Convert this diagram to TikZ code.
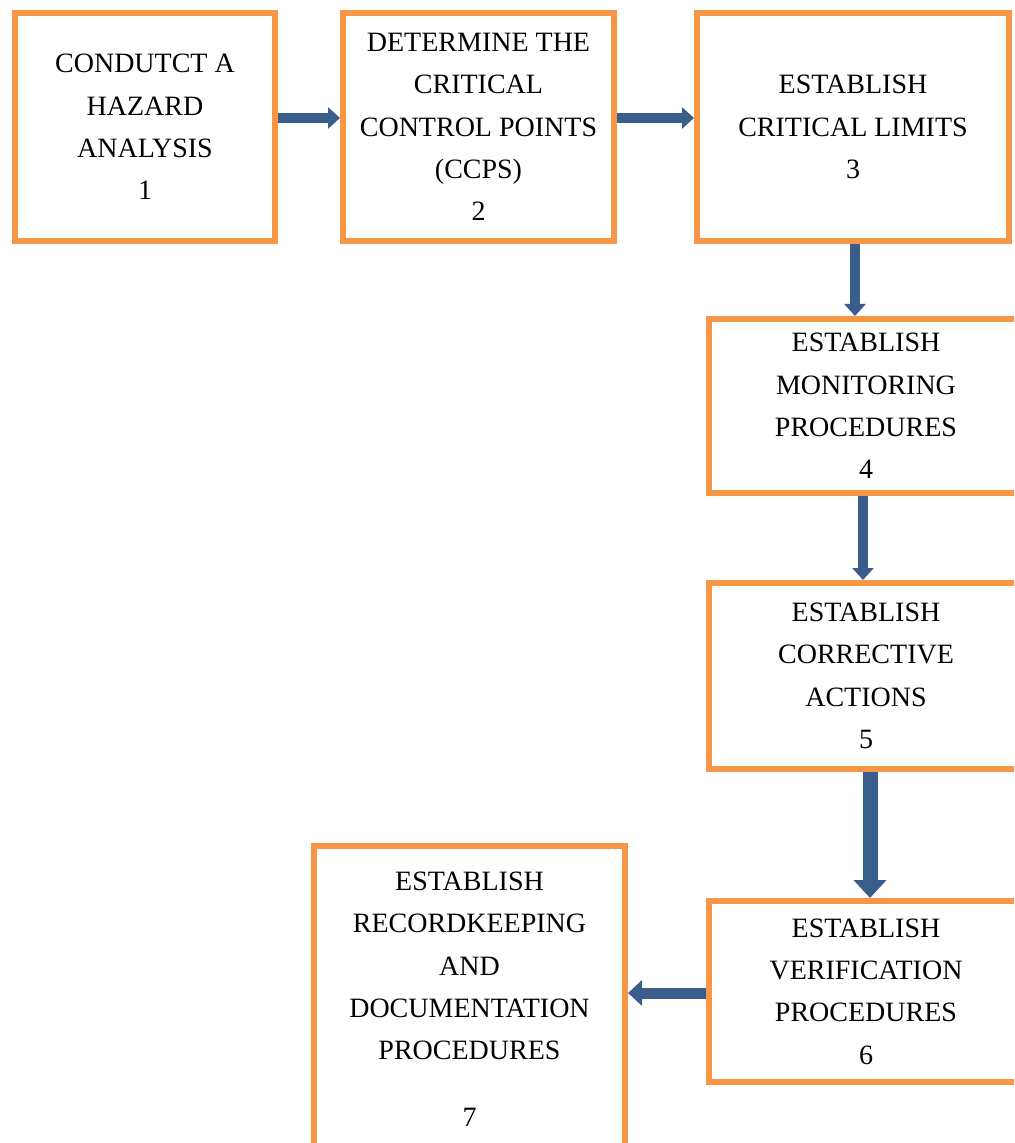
\documentclass[tikz,border=0pt]{standalone}
\usepackage{fontspec}
\setmainfont{Liberation Serif}
\usetikzlibrary{arrows.meta}
\definecolor{boxorange}{HTML}{F79646}
\definecolor{arrowblue}{HTML}{3A5E8C}
\begin{document}
\begin{tikzpicture}[x=0.5pt,y=-0.5pt,
  stepbox/.style={draw=boxorange, line width=3pt, fill=white, align=center,
    font=\fontsize{14}{21.2}\selectfont, inner sep=0pt},
  flow/.style={draw=arrowblue, line width=5pt,
    -{Triangle[width=10.5pt,length=6pt]}},
]
\useasboundingbox (0,0) rectangle (1014,1143);
\clip (0,0) rectangle (1014,1143);

% step boxes (the right-hand column and the last box run past the page edge)
\node[stepbox, minimum width=130pt, minimum height=114pt] (b1) at (145,127)
  {CONDUTCT A\\HAZARD\\ANALYSIS\\1};
\node[stepbox, minimum width=135.5pt, minimum height=114pt] (b2) at (478.5,127)
  {DETERMINE THE\\CRITICAL\\CONTROL POINTS\\(CCPS)\\2};
\node[stepbox, minimum width=156pt, minimum height=114pt] (b3) at (853,127)
  {ESTABLISH\\CRITICAL LIMITS\\3};
\node[stepbox, minimum width=157pt, minimum height=87pt] (b4) at (866,406)
  {ESTABLISH\\MONITORING\\PROCEDURES\\4};
\node[stepbox, minimum width=157pt, minimum height=93pt] (b5) at (866,676)
  {ESTABLISH\\CORRECTIVE\\ACTIONS\\5};
\node[stepbox, minimum width=157pt, minimum height=90.5pt] (b6) at (866,991.5)
  {ESTABLISH\\VERIFICATION\\PROCEDURES\\6};
\node[stepbox, minimum width=155.5pt, minimum height=153pt] (b7) at (469.5,999)
  {ESTABLISH\\RECORDKEEPING\\AND\\DOCUMENTATION\\PROCEDURES\\[12pt]7};

% connectors
\draw[flow] (b1.east |- 0,118) -- (b2.west |- 0,118);
\draw[flow] (b2.east |- 0,118) -- (b3.west |- 0,118);
\draw[flow] (b3.south -| 855,0) -- (b4.north -| 855,0);
\draw[flow] (b4.south -| 863,0) -- (b5.north -| 863,0);
\draw[flow, line width=7.5pt, -{Triangle[width=16pt,length=9pt]}]
  (b5.south -| 870,0) -- (b6.north -| 870,0);
\draw[flow, line width=5.5pt, -{Triangle[width=12.5pt,length=7pt]}]
  (b6.west |- 0,993) -- (b7.east |- 0,993);
\end{tikzpicture}
\end{document}
